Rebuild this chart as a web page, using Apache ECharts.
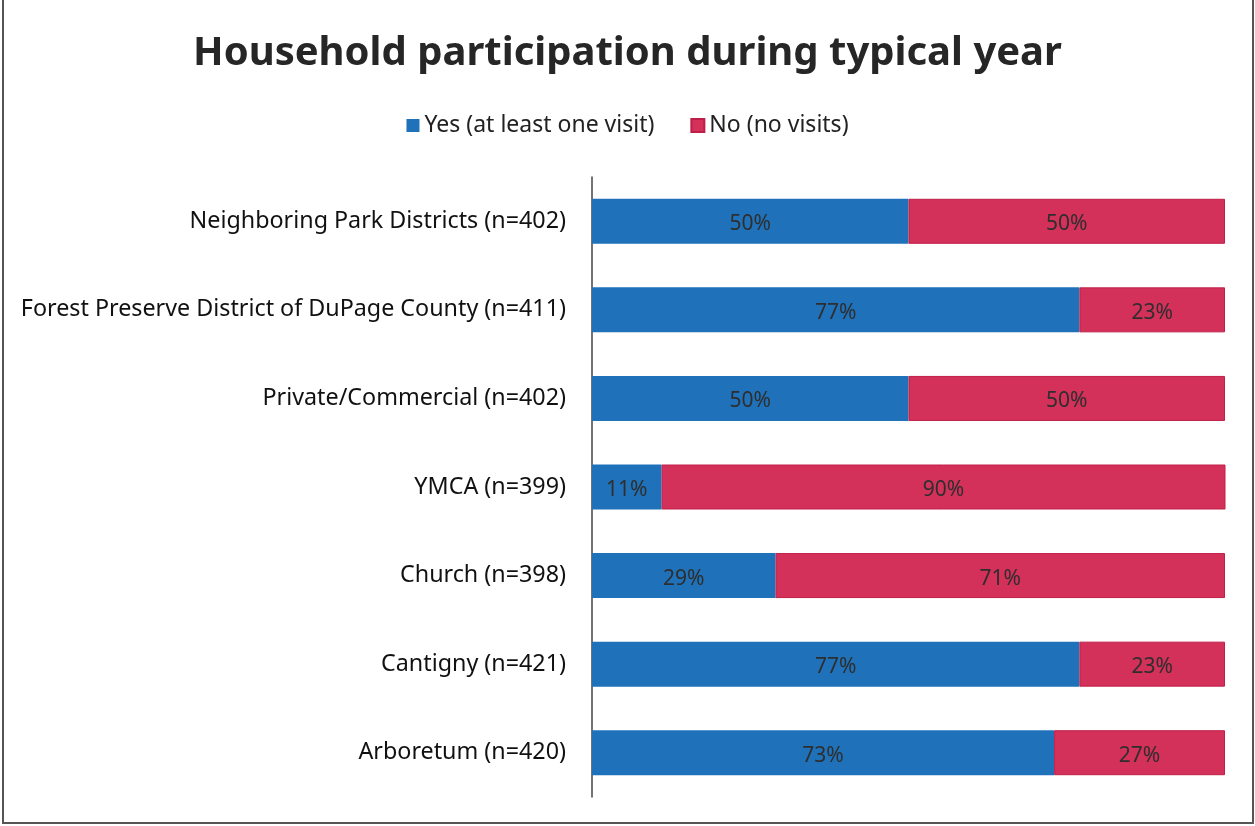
<!DOCTYPE html>
<html><head><meta charset="utf-8">
<script src="https://cdn.jsdelivr.net/npm/echarts@6/dist/echarts.min.js"></script>
<style>
html,body{margin:0;padding:0;background:#fff;}
#frame{position:absolute;left:2px;top:0;width:1248px;height:822px;border-left:2px solid #555;border-right:2px solid #555;border-bottom:2px solid #555;}
#c{position:absolute;left:0;top:0;width:1255px;height:826px;}
</style></head>
<body>
<div id="frame"></div>
<div id="c"></div>
<script>
const categories = [
  'Neighboring Park Districts (n=402)',
  'Forest Preserve District of DuPage County (n=411)',
  'Private/Commercial (n=402)',
  'YMCA (n=399)',
  'Church (n=398)',
  'Cantigny (n=421)',
  'Arboretum (n=420)'
];
const yesValues = [50, 77, 50, 11, 29, 77, 73];
const noValues  = [50, 23, 50, 90, 71, 23, 27];
const seriesNames = ['Yes (at least one visit)', 'No (no visits)'];

const font = 'Noto Sans';
const chart = echarts.init(document.getElementById('c'), null, {renderer:'canvas'});
chart.setOption({
  animation:false,
  backgroundColor:'transparent',
  title:{text:'Household participation during typical year',left:'center',top:29,
    textStyle:{fontFamily:font,fontSize:40,fontWeight:'bold',color:'#262626'}},
  legend:{top:109,left:'center',itemWidth:13,itemHeight:13,itemGap:36,icon:'rect',
    textStyle:{fontFamily:font,fontSize:23,color:'#222'},data:seriesNames},
  grid:{left:592,right:30,top:177,height:620,containLabel:false},
  xAxis:{type:'value',min:0,max:100,show:false},
  yAxis:{type:'category',inverse:true,data:categories,
    axisLine:{show:true,lineStyle:{color:'#444',width:1.5}},axisTick:{show:false},
    axisLabel:{fontFamily:font,fontSize:23.3,color:'#111',margin:26}},
  series:[
    {name:seriesNames[0],type:'bar',stack:'a',data:yesValues,barWidth:45,
      itemStyle:{color:'#1F72BA'},
      label:{show:true,position:'inside',offset:[0,3],formatter:'{c}%',fontFamily:font,fontSize:21,color:'#2e2e2e'}},
    {name:seriesNames[1],type:'bar',stack:'a',data:noValues,barWidth:45,
      itemStyle:{color:'#D3305A',borderColor:'#C01E48',borderWidth:1},
      label:{show:true,position:'inside',offset:[0,3],formatter:'{c}%',fontFamily:font,fontSize:21,color:'#2e2e2e'}}
  ]
});
</script>
</body></html>
